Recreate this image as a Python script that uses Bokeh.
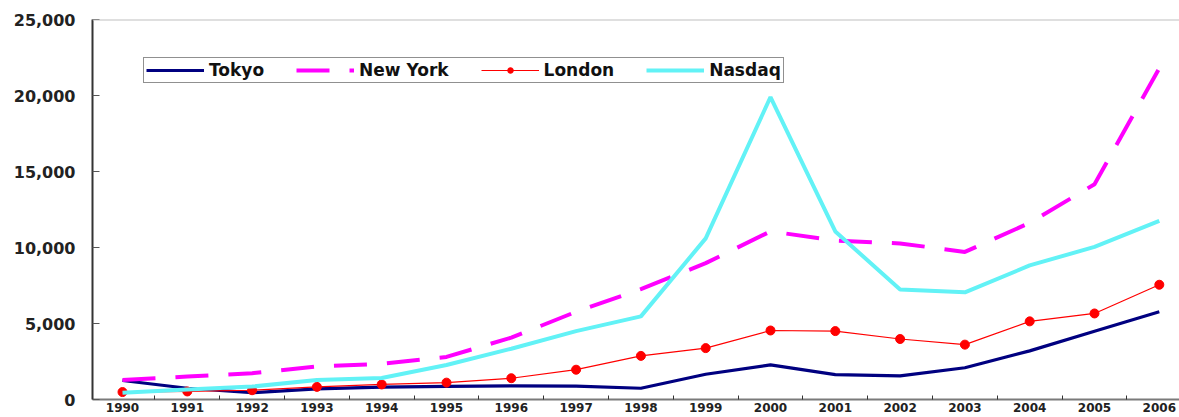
from bokeh.plotting import figure
from bokeh.models import (Range1d, FixedTicker, NumeralTickFormatter, Legend, LegendItem, Span)
from bokeh.embed import file_html
from bokeh.resources import INLINE

years = list(range(1990, 2007))
tokyo = [1250, 740, 450, 700, 810, 860, 900, 880, 740, 1660, 2280, 1640, 1550, 2090, 3200, 4490, 5770]
new_york = [1290, 1510, 1730, 2170, 2350, 2800, 4070, 5770, 7260, 8970, 11060, 10460, 10270, 9710, 11620, 14160, 21800]
london = [490, 530, 610, 830, 990, 1110, 1400, 1960, 2870, 3380, 4540, 4500, 3980, 3610, 5140, 5660, 7550]
nasdaq = [450, 660, 850, 1290, 1420, 2270, 3340, 4500, 5470, 10600, 19900, 11060, 7230, 7050, 8820, 10040, 11750]
y_ticks = [0, 5000, 10000, 15000, 20000, 25000]

FONT = "DejaVu Sans"

x0 = 1989.537
p = figure(width=1179, height=417, output_backend="svg", toolbar_location=None,
           x_range=Range1d(x0, x0 + 1087 / 64.8), y_range=Range1d(0, 25000),
           min_border_left=92, min_border_right=0, min_border_top=19, min_border_bottom=18)
p.outline_line_color = None
p.grid.visible = False
p.background_fill_color = "white"
p.border_fill_color = "white"

# x axis
xa = p.xaxis[0]
xa.ticker = FixedTicker(ticks=years, minor_ticks=[y + 0.5 for y in years[:-1]])
xa.major_tick_in = 0
xa.major_tick_out = 0
xa.minor_tick_in = 4
xa.minor_tick_out = 0
xa.minor_tick_line_color = "#333333"
xa.axis_line_color = "#7a7a7a"
xa.axis_line_width = 2
xa.major_label_standoff = 3
xa.major_label_text_font = FONT
xa.major_label_text_font_style = "bold"
xa.major_label_text_font_size = "12px"
xa.major_label_text_color = "#222222"

# y axis
ya = p.yaxis[0]
ya.ticker = FixedTicker(ticks=y_ticks)
ya.formatter = NumeralTickFormatter(format="0,0")
ya.major_tick_in = 7
ya.major_tick_out = 0
ya.minor_tick_line_color = None
ya.major_tick_line_color = "#555555"
ya.axis_line_color = "#333333"
ya.axis_line_width = 2
ya.major_label_standoff = 17
ya.major_label_text_font = FONT
ya.major_label_text_font_style = "bold"
ya.major_label_text_font_size = "16px"
ya.major_label_text_color = "#222222"

p.add_layout(Span(location=25000, dimension="width", line_color="#c0c0c0", line_width=2))

r_tokyo = p.line(years, tokyo, line_color="#000080", line_width=3.2)
r_ny = p.line(years, new_york, line_color="#ff00ff", line_width=4, line_dash="33 20")
r_lon = p.line(years, london, line_color="#ff0000", line_width=1.2)
r_lon_m = p.scatter(years, london, size=9, fill_color="#ff0000", line_color="#ff0000")
r_nas = p.line(years, nasdaq, line_color="#62f2f6", line_width=4)

legend = Legend(items=[
    LegendItem(label="Tokyo", renderers=[r_tokyo]),
    LegendItem(label="New York", renderers=[r_ny]),
    LegendItem(label="London", renderers=[r_lon, r_lon_m]),
    LegendItem(label="Nasdaq", renderers=[r_nas]),
], orientation="horizontal", location=(51, 316))
legend.glyph_width = 58
legend.glyph_height = 14
legend.label_height = 14
legend.label_standoff = 5
legend.spacing = 32
legend.padding = 2
legend.margin = 0
legend.label_text_font = FONT
legend.label_text_font_style = "bold"
legend.label_text_font_size = "17px"
legend.label_text_color = "#111111"
legend.border_line_color = "#222222"
legend.border_line_width = 1.5
legend.background_fill_color = "white"
legend.background_fill_alpha = 1
p.add_layout(legend, "center")

open("out.html", "w").write(file_html(p, INLINE))
